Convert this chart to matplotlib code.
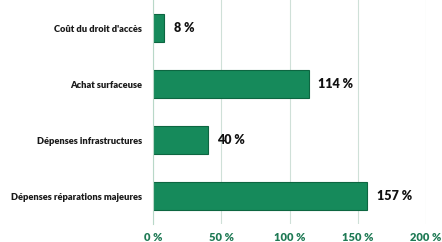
import matplotlib

matplotlib.use("Agg")
import matplotlib.pyplot as plt  # noqa: E402

categories = [
    "Coût du droit d'accès",
    "Achat surfaceuse",
    "Dépenses infrastructures",
    "Dépenses réparations majeures",
]
values = [8, 114, 40, 157]
xticks = [0, 50, 100, 150, 200]

plt.rcParams["font.family"] = ["Lato", "DejaVu Sans"]

fig = plt.figure(figsize=(4.42, 2.42), dpi=100)
ax = fig.add_axes([0.346, 0.074, 0.618, 0.926])

ypos = list(range(len(categories)))
bars = ax.barh(ypos, values, height=0.5, color="#168a5b", edgecolor="#0d6641", linewidth=0.8, zorder=3)
for b, v in zip(bars, values):
    ax.annotate(f"{v} %", (b.get_width(), b.get_y() + b.get_height() / 2),
                xytext=(7, 0), textcoords="offset points", va="center", ha="left",
                fontsize=9, fontweight="heavy", color="#111111")

ax.set_xlim(0, 200)
ax.set_ylim(len(categories) - 0.5, -0.5)
ax.set_yticks(ypos)
ax.set_yticklabels(categories, fontsize=6.7, fontweight="heavy", color="#1a1a1a")
ax.set_xticks(xticks)
ax.set_xticklabels([f"{t} %" for t in xticks], fontsize=8, fontweight="heavy", color="#1f7a55")
ax.tick_params(length=0, axis="both")
ax.tick_params(axis="y", pad=8)
ax.tick_params(axis="x", pad=6)
ax.grid(axis="x", color="#cfe0d8", linewidth=0.8, zorder=0)
for s in ["top", "right", "bottom"]:
    ax.spines[s].set_visible(False)
ax.spines["left"].set_color("#b8d8c8")
ax.spines["left"].set_zorder(4)

fig.savefig("out.png", dpi=100)
